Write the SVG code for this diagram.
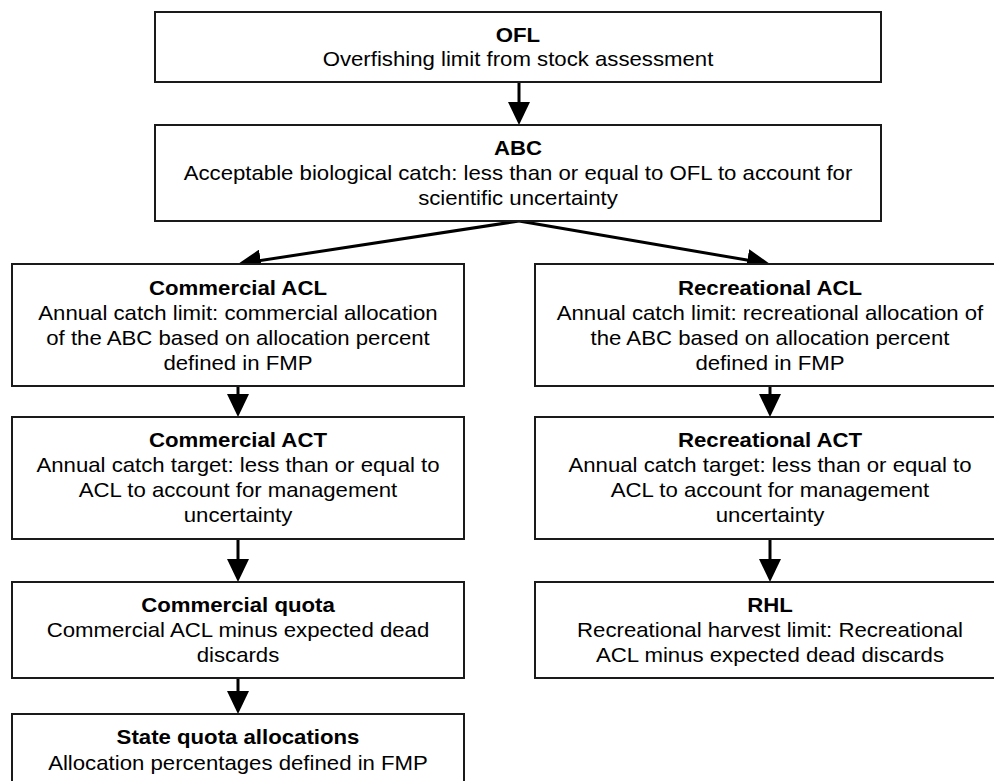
<svg xmlns="http://www.w3.org/2000/svg" width="994" height="781" viewBox="0 0 994 781">
<style>
.box{fill:#fff;stroke:#1a1a1a;stroke-width:2}
.t{font-family:"Liberation Sans",Arial,sans-serif;font-size:20px;font-weight:bold;fill:#000;text-anchor:middle}
.b{font-family:"Liberation Sans",Arial,sans-serif;font-size:20px;fill:#000;text-anchor:middle}
.c{stroke:#000;stroke-width:3;fill:none}
</style>
<defs>
<marker id="ah" markerUnits="userSpaceOnUse" markerWidth="23" markerHeight="22" refX="10" refY="11" orient="auto">
<path d="M0,0 L23,11 L0,22 Z" fill="#000"/>
</marker>
</defs>
<rect width="994" height="781" fill="#fff"/>
<g id="connectors">
<line class="c" x1="519" y1="83" x2="519" y2="112" marker-end="url(#ah)"/>
<line class="c" x1="519" y1="221" x2="250.8" y2="262" marker-end="url(#ah)"/>
<line class="c" x1="519" y1="221" x2="757.2" y2="261.8" marker-end="url(#ah)"/>
<line class="c" x1="238" y1="387" x2="238" y2="404" marker-end="url(#ah)"/>
<line class="c" x1="238" y1="540" x2="238" y2="569" marker-end="url(#ah)"/>
<line class="c" x1="238" y1="679" x2="238" y2="701" marker-end="url(#ah)"/>
<line class="c" x1="770" y1="387" x2="770" y2="404" marker-end="url(#ah)"/>
<line class="c" x1="770" y1="540" x2="770" y2="569" marker-end="url(#ah)"/>
</g>
<g id="ofl">
<rect class="box" x="155" y="12" width="726" height="70"/>
<text class="t" transform="translate(518,42) scale(1.11,1)">OFL</text>
<text class="b" transform="translate(518,66) scale(1.11,1)">Overfishing limit from stock assessment</text>
</g>
<g id="abc">
<rect class="box" x="155" y="125" width="726" height="96"/>
<text class="t" transform="translate(518,155) scale(1.11,1)">ABC</text>
<text class="b" transform="translate(518,180) scale(1.11,1)">Acceptable biological catch: less than or equal to OFL to account for</text>
<text class="b" transform="translate(518,205) scale(1.11,1)">scientific uncertainty</text>
</g>
<g id="commercial-acl">
<rect class="box" x="12" y="264" width="452" height="122"/>
<text class="t" transform="translate(238,295) scale(1.11,1)">Commercial ACL</text>
<text class="b" transform="translate(238,320) scale(1.11,1)">Annual catch limit: commercial allocation</text>
<text class="b" transform="translate(238,345) scale(1.11,1)">of the ABC based on allocation percent</text>
<text class="b" transform="translate(238,370) scale(1.11,1)">defined in FMP</text>
</g>
<g id="recreational-acl">
<rect class="box" x="535" y="264" width="470" height="122"/>
<text class="t" transform="translate(770,295) scale(1.11,1)">Recreational ACL</text>
<text class="b" transform="translate(770,320) scale(1.11,1)">Annual catch limit: recreational allocation of</text>
<text class="b" transform="translate(770,345) scale(1.11,1)">the ABC based on allocation percent</text>
<text class="b" transform="translate(770,370) scale(1.11,1)">defined in FMP</text>
</g>
<g id="commercial-act">
<rect class="box" x="12" y="417" width="452" height="122"/>
<text class="t" transform="translate(238,447) scale(1.11,1)">Commercial ACT</text>
<text class="b" transform="translate(238,472) scale(1.11,1)">Annual catch target: less than or equal to</text>
<text class="b" transform="translate(238,497) scale(1.11,1)">ACL to account for management</text>
<text class="b" transform="translate(238,522) scale(1.11,1)">uncertainty</text>
</g>
<g id="recreational-act">
<rect class="box" x="535" y="417" width="470" height="122"/>
<text class="t" transform="translate(770,447) scale(1.11,1)">Recreational ACT</text>
<text class="b" transform="translate(770,472) scale(1.11,1)">Annual catch target: less than or equal to</text>
<text class="b" transform="translate(770,497) scale(1.11,1)">ACL to account for management</text>
<text class="b" transform="translate(770,522) scale(1.11,1)">uncertainty</text>
</g>
<g id="commercial-quota">
<rect class="box" x="12" y="582" width="452" height="96"/>
<text class="t" transform="translate(238,612) scale(1.11,1)">Commercial quota</text>
<text class="b" transform="translate(238,637) scale(1.11,1)">Commercial ACL minus expected dead</text>
<text class="b" transform="translate(238,662) scale(1.11,1)">discards</text>
</g>
<g id="rhl">
<rect class="box" x="535" y="582" width="470" height="96"/>
<text class="t" transform="translate(770,612) scale(1.11,1)">RHL</text>
<text class="b" transform="translate(770,637) scale(1.11,1)">Recreational harvest limit: Recreational</text>
<text class="b" transform="translate(770,662) scale(1.11,1)">ACL minus expected dead discards</text>
</g>
<g id="state-quota">
<rect class="box" x="12" y="714" width="452" height="96"/>
<text class="t" transform="translate(238,744) scale(1.11,1)">State quota allocations</text>
<text class="b" transform="translate(238,770) scale(1.11,1)">Allocation percentages defined in FMP</text>
</g>
</svg>
